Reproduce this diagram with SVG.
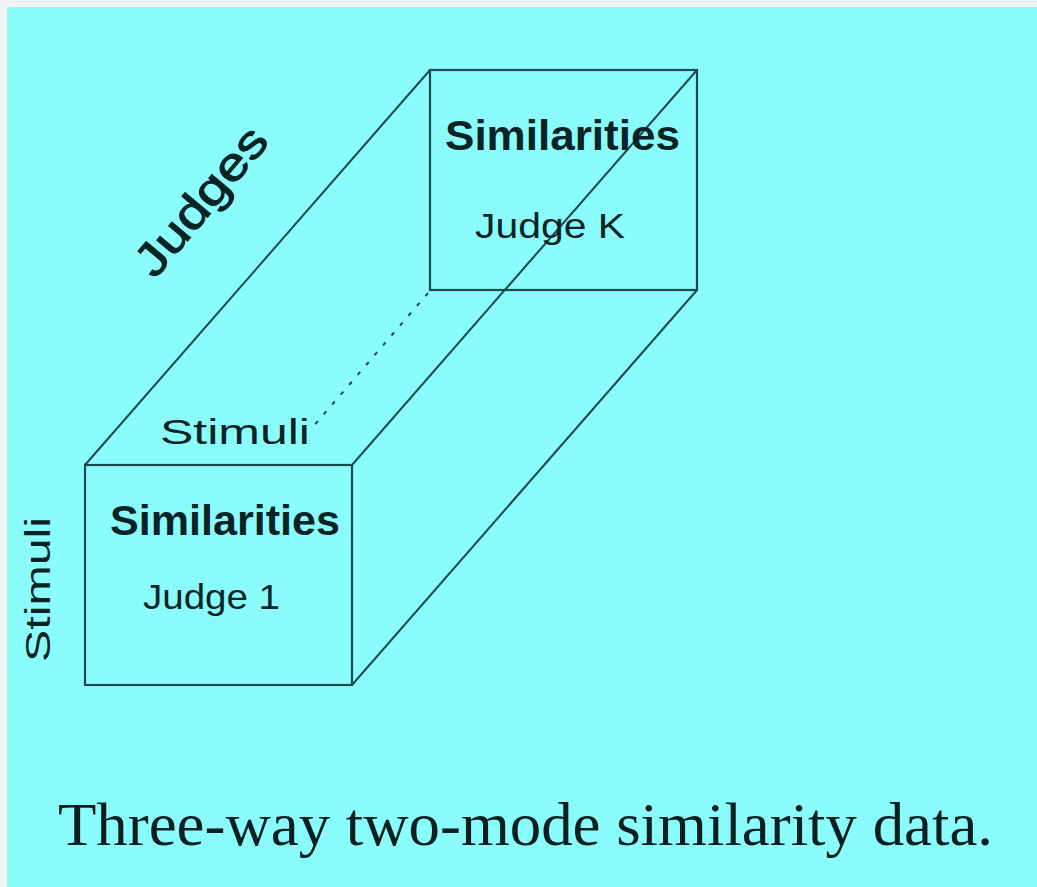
<svg xmlns="http://www.w3.org/2000/svg" width="1037" height="887" viewBox="0 0 1037 887">
<style>
.edge{stroke:#1a4a4e;stroke-width:2;fill:none}
.face{stroke:#1a4a4e;stroke-width:2.2;fill:none}
.sans{font-family:"Liberation Sans",Arial,sans-serif;fill:#0a2325}
.title{font-size:42px;font-weight:bold}
.sub{font-size:35px}
.axis{font-size:46px;stroke:#0a2325;stroke-width:1}
.cap{font-family:"Liberation Serif","Times New Roman",serif;font-size:62px;fill:#0a1f20}
</style>
<rect x="0" y="0" width="1037" height="887" fill="#f2f2f2"/>
<rect x="7" y="7" width="1030" height="880" fill="#8bfcfc"/>
<g id="connectors">
<line class="edge" x1="85" y1="465" x2="430" y2="70"/>
<line class="edge" x1="352" y1="465" x2="697" y2="70"/>
<line class="edge" x1="352" y1="685" x2="697" y2="290"/>
<line class="edge" x1="428" y1="293" x2="312" y2="428" stroke-dasharray="4 9"/>
</g>
<g id="back-face">
<rect class="face" x="430" y="70" width="267" height="220"/>
<text class="sans title" x="445" y="150" textLength="235" lengthAdjust="spacingAndGlyphs">Similarities</text>
<text class="sans sub" x="475" y="238" textLength="150" lengthAdjust="spacingAndGlyphs">Judge K</text>
</g>
<g id="front-face">
<rect class="face" x="85" y="465" width="267" height="220"/>
<text class="sans title" x="110" y="535" textLength="230" lengthAdjust="spacingAndGlyphs">Similarities</text>
<text class="sans sub" x="143" y="609" textLength="137" lengthAdjust="spacingAndGlyphs">Judge 1</text>
</g>
<g id="axis-labels">
<text class="sans axis" transform="translate(155,280) rotate(-50)" textLength="180" lengthAdjust="spacingAndGlyphs">Judges</text>
<text class="sans sub" x="160" y="444" textLength="150" lengthAdjust="spacingAndGlyphs">Stimuli</text>
<text class="sans sub" transform="translate(50,662) rotate(-90)" textLength="145" lengthAdjust="spacingAndGlyphs">Stimuli</text>
</g>
<text class="cap" x="58" y="845" textLength="935" lengthAdjust="spacingAndGlyphs">Three-way two-mode similarity data.</text>
</svg>
